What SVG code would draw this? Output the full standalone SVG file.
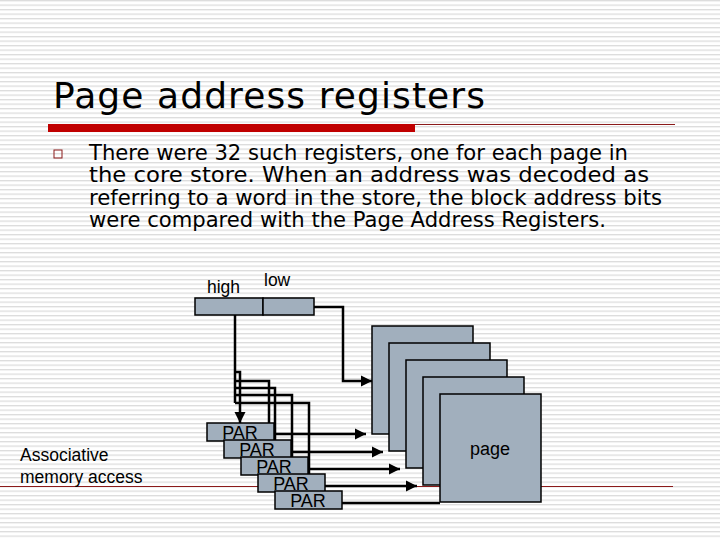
<svg xmlns="http://www.w3.org/2000/svg" width="720" height="540" viewBox="0 0 720 540">
<defs>
<pattern id="stripes" width="8" height="4.5" patternUnits="userSpaceOnUse"><rect width="8" height="4.5" fill="#fff"/><rect y="0" width="8" height="1.3" fill="#dcdcdc"/></pattern>
<marker id="ah" viewBox="0 0 10 10" refX="10" refY="5" markerWidth="4.5" markerHeight="4.5" orient="auto"><path d="M0,0L10,5L0,10z" fill="#000"/></marker>
<style>
.box{fill:#a1afbd;stroke:#000;stroke-width:1.5}
.w{stroke:#000;stroke-width:2.5;fill:none}
.a{stroke:#000;stroke-width:2.5;fill:none;marker-end:url(#ah)}
.s{font-family:"Liberation Sans",Arial,sans-serif;font-size:17.5px;fill:#000}
.p{font-family:"Liberation Sans",Arial,sans-serif;font-size:18px;fill:#000}
.b{font-family:"DejaVu Sans",Verdana,sans-serif;font-size:21.5px;fill:#000}
</style>
</defs>
<rect width="720" height="540" fill="url(#stripes)"/>
<text x="53" y="108" font-family="DejaVu Sans,Verdana,sans-serif" font-size="36" fill="#000" textLength="432">Page address registers</text>
<rect x="48" y="124" width="367" height="8" fill="#c00000"/>
<line x1="415" y1="124.5" x2="675" y2="124.5" stroke="#8b1a1a" stroke-width="1.2"/>
<line x1="0" y1="486.5" x2="673" y2="486.5" stroke="#8b1a1a" stroke-width="1.2"/>
<rect x="54" y="150" width="8" height="8" fill="none" stroke="#8b1a1a" stroke-width="1"/>
<text class="b" x="89" y="160" textLength="539" lengthAdjust="spacingAndGlyphs">There were 32 such registers, one for each page in</text>
<text class="b" x="89" y="182" textLength="560" lengthAdjust="spacingAndGlyphs">the core store. When an address was decoded as</text>
<text class="b" x="89" y="205" textLength="573" lengthAdjust="spacingAndGlyphs">referring to a word in the store, the block address bits</text>
<text class="b" x="89" y="227" textLength="517" lengthAdjust="spacingAndGlyphs">were compared with the Page Address Registers.</text>
<text class="s" x="20" y="461">Associative</text>
<text class="s" x="20" y="483">memory access</text>
<g id="reg"><rect class="box" x="195" y="298" width="68" height="17"/><rect class="box" x="263" y="298" width="51" height="17"/>
<text class="s" x="207" y="293">high</text><text class="s" x="264" y="286">low</text></g>
<g id="pages">
<rect class="box" x="372" y="326" width="101" height="108"/>
<rect class="box" x="389" y="343" width="101" height="108"/>
<rect class="box" x="406" y="360" width="101" height="108"/>
<rect class="box" x="423" y="377" width="101" height="108"/>
</g>
<g id="connectors">
<path class="a" d="M314,307H343V381H372"/>
<path class="w" d="M235,315V403"/>
<path class="a" d="M235,372H240V423"/>
<path class="a" d="M235,381H269V440"/>
<path class="a" d="M235,388H275V457"/>
<path class="a" d="M235,395H292V474"/>
<path class="a" d="M235,403H309V491"/>
<path class="a" d="M274,434H366"/>
<path class="a" d="M291,452H383"/>
<path class="a" d="M308,469H400"/>
<path class="a" d="M325,486H417"/>
<path class="w" d="M342,503H440"/>
</g>
<g id="pars">
<g><rect class="box" x="207" y="423" width="67" height="18"/><text class="p" x="240" y="439" text-anchor="middle">PAR</text></g>
<g><rect class="box" x="224" y="440" width="67" height="18"/><text class="p" x="257" y="456" text-anchor="middle">PAR</text></g>
<g><rect class="box" x="241" y="457" width="67" height="18"/><text class="p" x="274" y="473" text-anchor="middle">PAR</text></g>
<g><rect class="box" x="258" y="474" width="67" height="18"/><text class="p" x="291" y="490" text-anchor="middle">PAR</text></g>
<g><rect class="box" x="275" y="491" width="67" height="18"/><text class="p" x="308" y="507" text-anchor="middle">PAR</text></g>
</g>
<g id="page"><rect class="box" x="440" y="394" width="101" height="108"/><text class="p" x="490" y="455" text-anchor="middle">page</text></g>
</svg>
